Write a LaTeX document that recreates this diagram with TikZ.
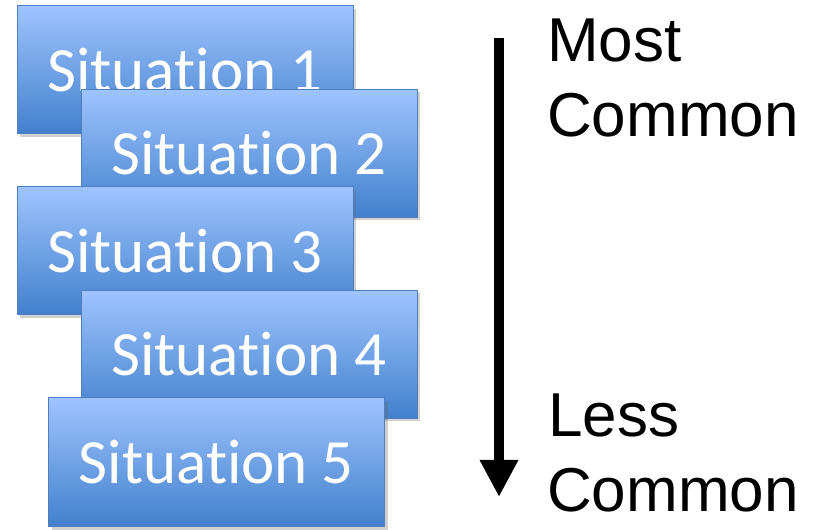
\documentclass[tikz,border=0pt]{standalone}
\usepackage{fontspec}
\setmainfont{Carlito}[Ligatures={NoCommon}]
\newfontfamily\labelfont{Liberation Sans}
\usetikzlibrary{arrows.meta,shadows}
\definecolor{boxtop}{RGB}{158,196,255}
\definecolor{boxbot}{RGB}{66,128,204}
\definecolor{boxline}{RGB}{80,126,190}
\tikzset{
  sitbox/.style={draw=boxline, line width=1pt, top color=boxtop, bottom color=boxbot,
    minimum width=336pt, minimum height=128pt, inner sep=0pt,
    text=white, font=\fontsize{63}{70}\selectfont,
    drop shadow={shadow xshift=3pt, shadow yshift=-3pt, opacity=0.3, fill=black!60}},
  sidelabel/.style={anchor=base west, inner sep=0pt, font=\labelfont\fontsize{62}{70}\selectfont},
  bigarrow/.style={line width=10pt, -{Triangle[width=36pt,length=37pt]}}
}
\begin{document}
\begin{tikzpicture}[x=1pt,y=1pt]
\useasboundingbox (0,0) rectangle (825,530);
\node[sitbox] (s1) at (185,460) {Situation 1};
\node[sitbox] (s2) at (249,376.5) {Situation 2};
\node[sitbox] (s3) at (185,279) {Situation 3};
\node[sitbox] (s4) at (249,175.5) {Situation 4};
\node[sitbox, minimum height=129pt] (s5) at (216.5,67.5) {Situation 5};
\coordinate (atop) at (499,492);
\coordinate (abot) at (499,33);
\draw[bigarrow] (atop) -- (abot);
\node[sidelabel] (m1) at (547,468) {Most};
\node[sidelabel] (m2) at (547,393) {Common};
\node[sidelabel] (l1) at (548,93) {Less};
\node[sidelabel] (l2) at (547,18) {Common};
\end{tikzpicture}
\end{document}
